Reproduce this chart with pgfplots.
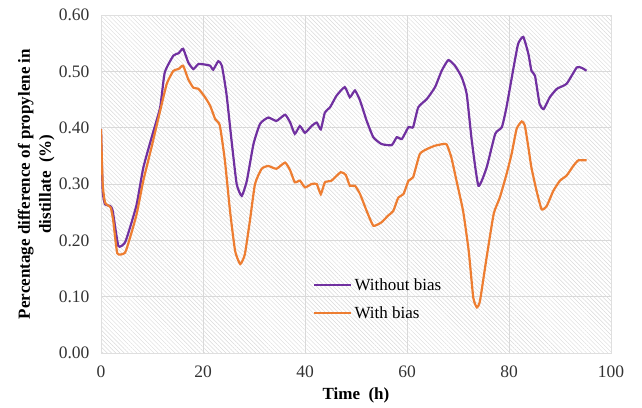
\documentclass[border=0pt]{standalone}
\usepackage{pgfplots}
\pgfplotsset{compat=1.18}
\usepackage{fontspec}
\setmainfont{Liberation Serif}
\usetikzlibrary{patterns.meta}
\definecolor{cpurple}{RGB}{112,48,160}
\definecolor{corange}{RGB}{237,125,49}
\begin{document}
\begin{tikzpicture}
\useasboundingbox (0,0) rectangle (642pt,407pt);
\begin{axis}[
  at={(101pt,54pt)}, anchor=south west,
  scale only axis, width=510pt, height=338pt,
  xmin=0, xmax=100, ymin=0, ymax=0.6,
  xtick={0,20,...,100}, ytick={0,0.1,...,0.6},
  /pgf/number format/assume math mode=true,
  yticklabel style={/pgf/number format/fixed, /pgf/number format/fixed zerofill, /pgf/number format/precision=2, xshift=-8pt},
  xticklabel style={yshift=-9pt},
  ticklabel style={font=\fontsize{17.5}{20}\selectfont, text=black!80},
  major tick length=0pt,
  grid=major, grid style={gray!30, line width=1pt},
  axis line style={gray!25, line width=1pt},
  axis background/.style={pattern={Lines[angle=-45, distance=3pt, line width=0.45pt]}, pattern color=gray!30},
  xlabel={Time\ \ (h)},
  ylabel={Percentage difference of propylene in\\distillate\ \ (\%)},
  xlabel style={font=\fontsize{17}{20}\selectfont\bfseries, at={(axis description cs:0.5,-0.125)}, anchor=center},
  ylabel style={font=\fontsize{17}{21}\selectfont\bfseries, align=center, at={(axis description cs:-0.127,0.5)}, anchor=center},
  legend style={at={(axis cs:41,0.14)}, anchor=north west, draw=none, fill=none, font=\fontsize{17}{20}\selectfont, row sep=11pt},
  legend cell align=left,
  legend image code/.code={\draw[#1] (0pt,0pt) -- (37pt,0pt);},
]
\addplot[cpurple, line width=2.2pt, smooth, tension=0.3] coordinates {
(0,0.398) (0.33,0.288) (0.8,0.264) (1.8,0.261) (2.3,0.252) (3.4,0.190) (4.7,0.196) (5.7,0.223) (7.0,0.264) (8.3,0.329) (10.0,0.385) (11.6,0.436) (12.5,0.498) (14.2,0.528) (15.2,0.532) (16.1,0.540) (17.1,0.516) (18.1,0.504) (19.1,0.513) (20.4,0.512) (21.4,0.510) (22.0,0.503) (23.0,0.518) (23.7,0.510) (24.6,0.460) (25.6,0.377) (26.6,0.300) (27.6,0.279) (28.6,0.306) (29.9,0.371) (31.2,0.407) (32.8,0.418) (34.4,0.412) (36.1,0.423) (37.1,0.409) (38.0,0.389) (39.0,0.403) (40.0,0.391) (41.3,0.403) (42.3,0.409) (43.1,0.397) (43.9,0.427) (44.9,0.436) (46.2,0.457) (47.8,0.472) (48.8,0.454) (49.8,0.466) (50.8,0.448) (52.1,0.412) (53.4,0.383) (55.0,0.371) (57.0,0.369) (58.0,0.383) (59.0,0.380) (60.3,0.401) (61.2,0.401) (62.2,0.436) (63.9,0.451) (65.5,0.472) (66.8,0.501) (68.1,0.520) (69.4,0.510) (70.7,0.490) (71.7,0.460) (72.7,0.377) (74.0,0.297) (75.6,0.329) (77.3,0.389) (78.6,0.401) (79.5,0.436) (80.9,0.507) (81.8,0.549) (82.8,0.561) (83.8,0.531) (84.4,0.501) (85.1,0.492) (86.0,0.442) (86.8,0.433) (88.0,0.454) (89.4,0.469) (91.3,0.478) (93.3,0.507) (94.3,0.506) (95.2,0.501)
};
\addlegendentry{Without bias}
\addplot[corange, line width=2.2pt, smooth, tension=0.3] coordinates {
(0,0.398) (0.33,0.300) (0.8,0.267) (1.9,0.258) (2.4,0.235) (3.2,0.177) (4.7,0.178) (5.7,0.205) (7.0,0.247) (8.3,0.306) (9.9,0.365) (11.6,0.430) (12.9,0.478) (14.2,0.501) (15.2,0.504) (16.1,0.510) (17.1,0.486) (18.1,0.471) (19.1,0.469) (20.4,0.454) (21.4,0.439) (22.4,0.415) (23.3,0.404) (24.3,0.341) (25.3,0.252) (26.3,0.181) (27.3,0.158) (28.2,0.175) (29.2,0.235) (30.2,0.300) (31.5,0.327) (32.8,0.332) (34.4,0.327) (36.1,0.338) (37.1,0.324) (38.0,0.303) (39.0,0.306) (40.0,0.294) (41.3,0.300) (42.3,0.300) (43.1,0.282) (43.9,0.303) (45.2,0.306) (47.0,0.321) (48.0,0.316) (48.8,0.297) (49.8,0.297) (50.8,0.282) (52.1,0.252) (53.4,0.226) (55.0,0.232) (56.3,0.244) (57.3,0.252) (58.3,0.276) (59.3,0.282) (60.3,0.306) (61.2,0.312) (62.5,0.353) (63.9,0.362) (65.5,0.368) (67.1,0.371) (67.8,0.370) (68.7,0.347) (69.7,0.306) (71.0,0.252) (72.1,0.181) (73.0,0.098) (73.7,0.081) (74.3,0.092) (75.6,0.169) (77.0,0.247) (78.2,0.276) (79.5,0.317) (80.5,0.353) (81.5,0.398) (82.5,0.411) (83.1,0.404) (83.8,0.365) (84.4,0.329) (85.4,0.288) (86.4,0.255) (87.4,0.261) (88.7,0.288) (90.0,0.306) (91.3,0.315) (92.6,0.332) (93.6,0.342) (95.2,0.342)
};
\addlegendentry{With bias}
\end{axis}
\end{tikzpicture}
\end{document}
